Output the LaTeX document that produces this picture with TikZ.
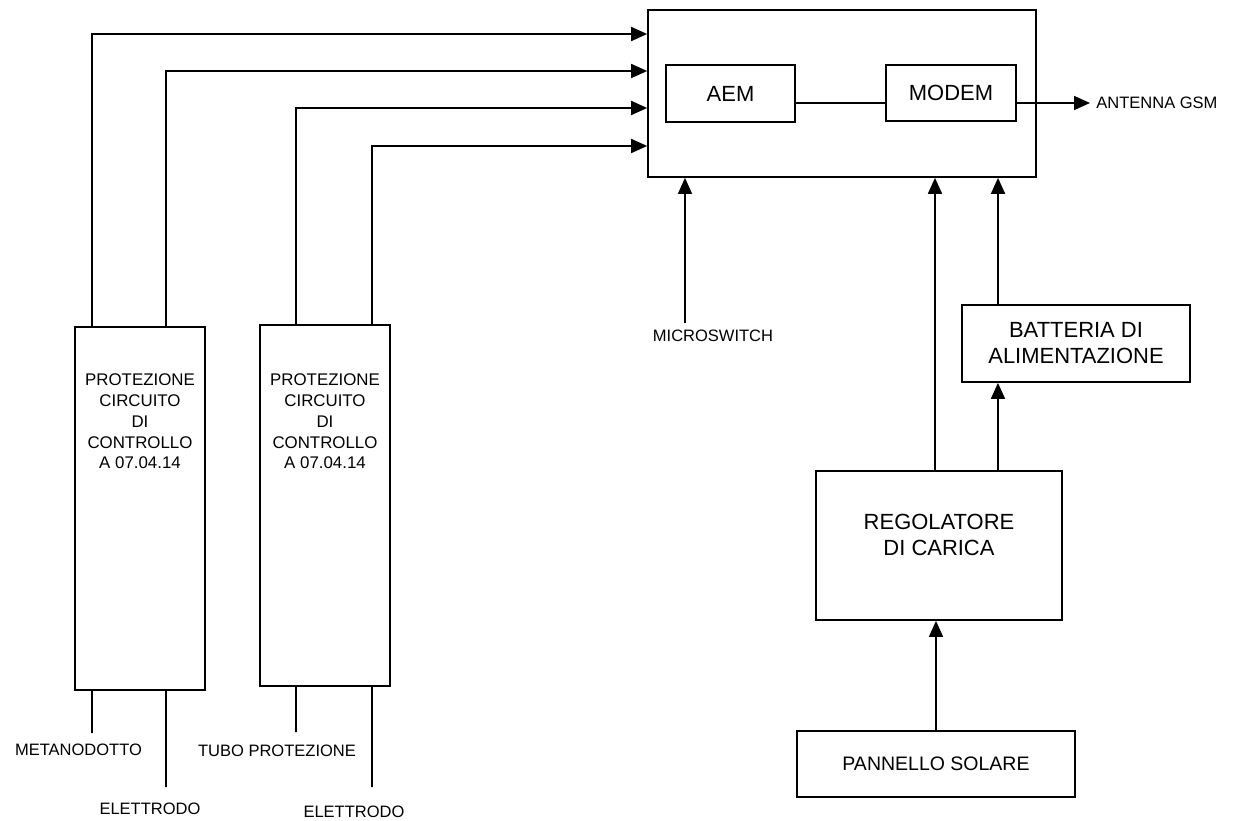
\documentclass[tikz,border=0pt]{standalone}
\usepackage{fontspec}
\setmainfont{Liberation Sans}
\usetikzlibrary{arrows.meta}
\begin{document}
\begin{tikzpicture}[x=0.02cm,y=-0.02cm,
  wire/.style={line width=1pt},
  feed/.style={wire,-{Triangle[length=0.32cm,width=0.28cm]}},
  blk/.style={draw,line width=1pt,inner sep=0pt},
  lbl/.style={font=\fontsize{9.6}{11.8}\selectfont,align=center,inner sep=0pt},
  tag/.style={font=\fontsize{9.4}{11}\selectfont,inner sep=0pt},
  big/.style={font=\fontsize{12.5}{14.8}\selectfont,align=center,inner sep=0pt},
]
\useasboundingbox[fill=white] (0,0) rectangle (1242,821);

% central unit with its two modules
\node[blk,minimum width=7.76cm,minimum height=3.34cm] (main) at (842,93.5) {};
\node[blk,big,minimum width=2.58cm,minimum height=1.14cm] (aem) at (730.5,93.5) {AEM};
\node[blk,big,minimum width=2.6cm,minimum height=1.12cm] (modem) at (951,93) {MODEM};
\draw[wire] ([yshift=-0.19cm]aem.east) -- ([yshift=-0.2cm]modem.west);
\coordinate (ant) at (1090,103);
\draw[feed] ([yshift=-0.2cm]modem.east) -- (ant);
\node[tag,anchor=west] (antlbl) at (1096,103) {ANTENNA GSM};

% protection circuits
\node[blk,minimum width=2.6cm,minimum height=7.26cm] (p1) at (140,508.5) {};
\node[blk,minimum width=2.6cm,minimum height=7.22cm] (p2) at (325,505.5) {};
\node[lbl] (p1t) at (140,421.5) {PROTEZIONE\\CIRCUITO\\DI\\CONTROLLO\\A 07.04.14};
\node[lbl] (p2t) at (325,421.5) {PROTEZIONE\\CIRCUITO\\DI\\CONTROLLO\\A 07.04.14};

% signal inputs to the central unit
\draw[feed] ([xshift=-0.96cm]p1.north) |- ([yshift=1.19cm]main.west);
\draw[feed] ([xshift=0.52cm]p1.north) |- ([yshift=0.45cm]main.west);
\draw[feed] ([xshift=-0.58cm]p2.north) |- ([yshift=-0.29cm]main.west);
\draw[feed] ([xshift=0.94cm]p2.north) |- ([yshift=-1.05cm]main.west);

% field connections
\coordinate (m1) at (92,733);
\coordinate (e1) at (166,787);
\coordinate (t1) at (296,732);
\coordinate (e2) at (372,787);
\draw[wire] ([xshift=-0.96cm]p1.south) -- (m1);
\draw[wire] ([xshift=0.52cm]p1.south) -- (e1);
\draw[wire] ([xshift=-0.58cm]p2.south) -- (t1);
\draw[wire] ([xshift=0.94cm]p2.south) -- (e2);
\node[tag] (m1l) at (78.5,750) {METANODOTTO};
\node[tag] (e1l) at (150,809) {ELETTRODO};
\node[tag] (t1l) at (277,751) {TUBO PROTEZIONE};
\node[tag] (e2l) at (354,812) {ELETTRODO};

% microswitch
\coordinate (ms) at (685,323);
\draw[feed,line width=0.8pt] (ms) -- (main.south -| ms);
\node[tag] (msl) at (713,336) {MICROSWITCH};

% power supply chain
\node[blk,minimum width=4.92cm,minimum height=2.98cm] (reg) at (939,545.5) {};
\node[big] (regt) at (939,535) {REGOLATORE\\DI CARICA};
\node[blk,big,minimum width=4.56cm,minimum height=1.54cm] (bat) at (1076,343.5) {BATTERIA DI\\ALIMENTAZIONE};
\node[blk,font=\fontsize{11.1}{13}\selectfont,minimum width=5.56cm,minimum height=1.32cm] (pan) at (936,764) {PANNELLO SOLARE};

\draw[feed] (pan.north) -- (pan.north |- reg.south);
\draw[feed] ([xshift=-0.08cm]reg.north) -- ([xshift=-0.08cm]reg.north |- main.south);
\draw[feed] ([xshift=1.18cm]reg.north) -- ([xshift=1.18cm]reg.north |- bat.south);
\draw[feed] ([xshift=-1.56cm]bat.north) -- ([xshift=-1.56cm]bat.north |- main.south);
\end{tikzpicture}
\end{document}
